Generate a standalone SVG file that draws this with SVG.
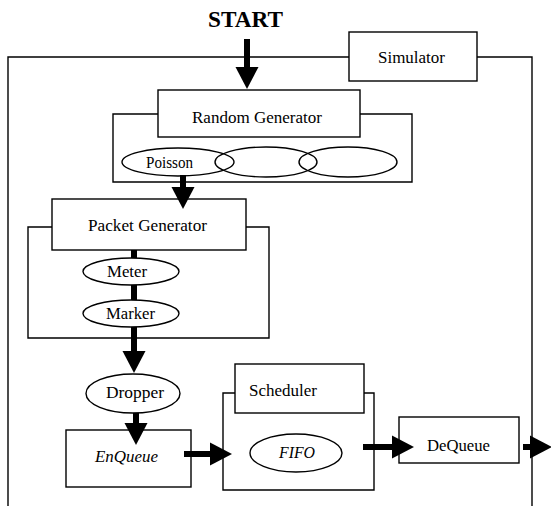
<svg xmlns="http://www.w3.org/2000/svg" width="551" height="506" viewBox="0 0 551 506">
<style>
.box{fill:#fff;stroke:#000;stroke-width:1.4}
.frame{fill:none;stroke:#000;stroke-width:1.4}
.ell{fill:none;stroke:#000;stroke-width:1.4}
.t{font-family:"Liberation Serif","Times New Roman",serif;font-size:16.5px;fill:#000;text-anchor:start}
.it{font-style:italic}
.conn{stroke:#000;stroke-width:6;fill:none}
</style>
<defs>
<marker id="ah" markerUnits="userSpaceOnUse" markerWidth="24" markerHeight="24" refX="0" refY="11.5" orient="auto" overflow="visible">
<path d="M0,0 L22,11.5 L0,23 Z" fill="#000"/>
</marker>
</defs>
<rect width="551" height="506" fill="#fff"/>
<text x="208" y="27" font-family="Liberation Serif, Times New Roman, serif" font-size="23" font-weight="bold" textLength="75" lengthAdjust="spacingAndGlyphs">START</text>

<g id="simulator">
<path class="frame" d="M8,506 V57 H349 M477,57 H532 V506"/>
<rect class="box" x="349" y="32" width="128" height="49"/>
<text class="t" x="378" y="63" textLength="67" lengthAdjust="spacingAndGlyphs">Simulator</text>
</g>

<g id="random-generator">
<path class="frame" d="M158,114 H113 V182 H412 V114 H360"/>
<rect class="box" x="158" y="90" width="202" height="47"/>
<text class="t" x="192" y="123" textLength="130" lengthAdjust="spacingAndGlyphs">Random Generator</text>
</g>
<g id="poisson">
<ellipse class="ell" cx="178" cy="162" rx="56" ry="14"/>
<text class="t" x="146" y="168" textLength="47" lengthAdjust="spacingAndGlyphs">Poisson</text>
</g>
<g id="dist2"><ellipse class="ell" cx="266" cy="162" rx="51" ry="15"/></g>
<g id="dist3"><ellipse class="ell" cx="348" cy="162" rx="49" ry="15"/></g>

<g id="packet-generator">
<path class="frame" d="M52,227 H28 V338 H269 V227 H246"/>
<rect class="box" x="52" y="199" width="194" height="51"/>
<text class="t" x="88" y="231" textLength="119" lengthAdjust="spacingAndGlyphs">Packet Generator</text>
</g>
<g id="meter">
<ellipse class="ell" cx="131" cy="271.5" rx="48" ry="13.5"/>
<text class="t" x="107" y="277" textLength="40" lengthAdjust="spacingAndGlyphs">Meter</text>
</g>
<g id="marker">
<ellipse class="ell" cx="131" cy="313.5" rx="48" ry="13.5"/>
<text class="t" x="106" y="319" textLength="49" lengthAdjust="spacingAndGlyphs">Marker</text>
</g>
<g id="dropper">
<ellipse class="ell" cx="133" cy="393.5" rx="47" ry="19.5"/>
<text class="t" x="106" y="398" textLength="58" lengthAdjust="spacingAndGlyphs">Dropper</text>
</g>
<g id="enqueue">
<rect class="box" x="66" y="430" width="125" height="57"/>
<text class="t it" x="95" y="462" textLength="63" lengthAdjust="spacingAndGlyphs">EnQueue</text>
</g>
<g id="scheduler">
<path class="frame" d="M235,393 H223 V490 H374 V393 H364"/>
<rect class="box" x="235" y="364" width="129" height="49"/>
<text class="t" x="249" y="396" textLength="68" lengthAdjust="spacingAndGlyphs">Scheduler</text>
</g>
<g id="fifo">
<ellipse class="ell" cx="296" cy="453" rx="46" ry="19"/>
<text class="t it" x="279" y="458" textLength="36" lengthAdjust="spacingAndGlyphs">FIFO</text>
</g>
<g id="dequeue">
<rect class="box" x="399" y="417" width="120" height="46"/>
<text class="t" x="427" y="451" textLength="63" lengthAdjust="spacingAndGlyphs">DeQueue</text>
</g>

<g id="connectors">
<line class="conn" x1="247" y1="39" x2="247" y2="67" marker-end="url(#ah)"/>
<line class="conn" x1="183" y1="175" x2="183" y2="187" marker-end="url(#ah)"/>
<line class="conn" x1="134" y1="250" x2="134" y2="258"/>
<line class="conn" x1="134" y1="285" x2="134" y2="300"/>
<line class="conn" x1="134" y1="327" x2="134" y2="351" marker-end="url(#ah)"/>
<line class="conn" x1="136" y1="413" x2="136" y2="423" marker-end="url(#ah)"/>
<line class="conn" x1="184" y1="454" x2="210" y2="454" marker-end="url(#ah)"/>
<line class="conn" x1="363" y1="447" x2="392" y2="447" marker-end="url(#ah)"/>
<line class="conn" x1="523" y1="447" x2="530" y2="447" marker-end="url(#ah)"/>
</g>
</svg>
